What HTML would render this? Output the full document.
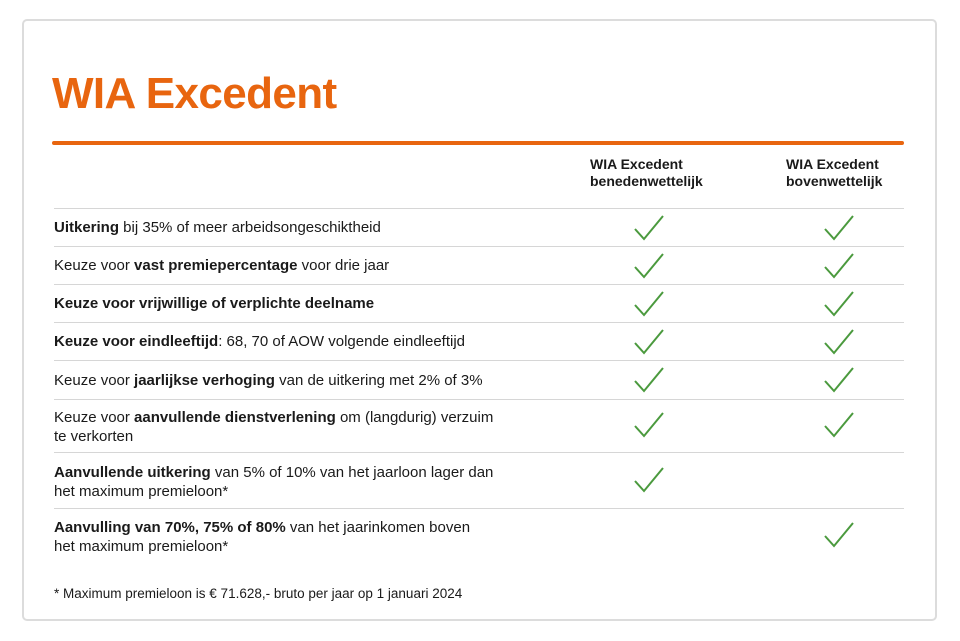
<!DOCTYPE html>
<html><head><meta charset="utf-8"><style>
body{margin:0;width:960px;height:641px;background:#fff;position:relative;font-family:"Liberation Sans",sans-serif;color:#1a1a1a;overflow:hidden}
.card{position:absolute;left:22px;top:19px;width:911px;height:598px;border:2px solid #dcdcdc;border-radius:5px}
.t{position:absolute;left:52px;top:69px;font-size:44px;font-weight:bold;color:#e8650f;letter-spacing:-0.6px}
.ol{position:absolute;left:52px;top:141px;width:852px;height:4px;background:#e8650f;border-radius:2px}
.h{position:absolute;font-size:14px;font-weight:bold;line-height:17px}
.sep{position:absolute;left:54px;width:850px;height:1px;background:#d6d6d6}
.r{position:absolute;left:54px;font-size:15px;line-height:19px}
svg.c{position:absolute;width:32px;height:28px}
.f{position:absolute;left:54px;top:586px;font-size:13.5px}
</style></head><body>
<div class="card"></div>
<div class="t">WIA Excedent</div>
<div class="ol"></div>
<div class="h" style="left:590px;top:156px">WIA Excedent<br>benedenwettelijk</div>
<div class="h" style="left:786px;top:156px">WIA Excedent<br>bovenwettelijk</div>
<div class="sep" style="top:208px"></div>
<div class="sep" style="top:246px"></div>
<div class="sep" style="top:284px"></div>
<div class="sep" style="top:322px"></div>
<div class="sep" style="top:360px"></div>
<div class="sep" style="top:399px"></div>
<div class="sep" style="top:452px"></div>
<div class="sep" style="top:508px"></div>
<div class="r" style="top:218px"><b>Uitkering</b> bij 35% of meer arbeidsongeschiktheid</div>
<div class="r" style="top:256px">Keuze voor <b>vast premiepercentage</b> voor drie jaar</div>
<div class="r" style="top:294px"><b>Keuze voor vrijwillige of verplichte deelname</b></div>
<div class="r" style="top:332px"><b>Keuze voor eindleeftijd</b>: 68, 70 of AOW volgende eindleeftijd</div>
<div class="r" style="top:371px">Keuze voor <b>jaarlijkse verhoging</b> van de uitkering met 2% of 3%</div>
<div class="r" style="top:408px">Keuze voor <b>aanvullende dienstverlening</b> om (langdurig) verzuim<br>te verkorten</div>
<div class="r" style="top:463px"><b>Aanvullende uitkering</b> van 5% of 10% van het jaarloon lager dan<br>het maximum premieloon*</div>
<div class="r" style="top:518px"><b>Aanvulling van 70%, 75% of 80%</b> van het jaarinkomen boven<br>het maximum premieloon*</div>
<div class="f">* Maximum premieloon is € 71.628,- bruto per jaar op 1 januari 2024</div>
<svg width="0" height="0"><defs><symbol id="k" viewBox="0 0 32 28"><path d="M2 15 L11 25 L30 2" fill="none" stroke="#4b9a3e" stroke-width="2"/></symbol></defs></svg>
<svg class="c" style="left:633px;top:214px"><use href="#k"/></svg>
<svg class="c" style="left:823px;top:214px"><use href="#k"/></svg>
<svg class="c" style="left:633px;top:252px"><use href="#k"/></svg>
<svg class="c" style="left:823px;top:252px"><use href="#k"/></svg>
<svg class="c" style="left:633px;top:290px"><use href="#k"/></svg>
<svg class="c" style="left:823px;top:290px"><use href="#k"/></svg>
<svg class="c" style="left:633px;top:328px"><use href="#k"/></svg>
<svg class="c" style="left:823px;top:328px"><use href="#k"/></svg>
<svg class="c" style="left:633px;top:366px"><use href="#k"/></svg>
<svg class="c" style="left:823px;top:366px"><use href="#k"/></svg>
<svg class="c" style="left:633px;top:411px"><use href="#k"/></svg>
<svg class="c" style="left:823px;top:411px"><use href="#k"/></svg>
<svg class="c" style="left:633px;top:466px"><use href="#k"/></svg>
<svg class="c" style="left:823px;top:521px"><use href="#k"/></svg>
</body></html>
